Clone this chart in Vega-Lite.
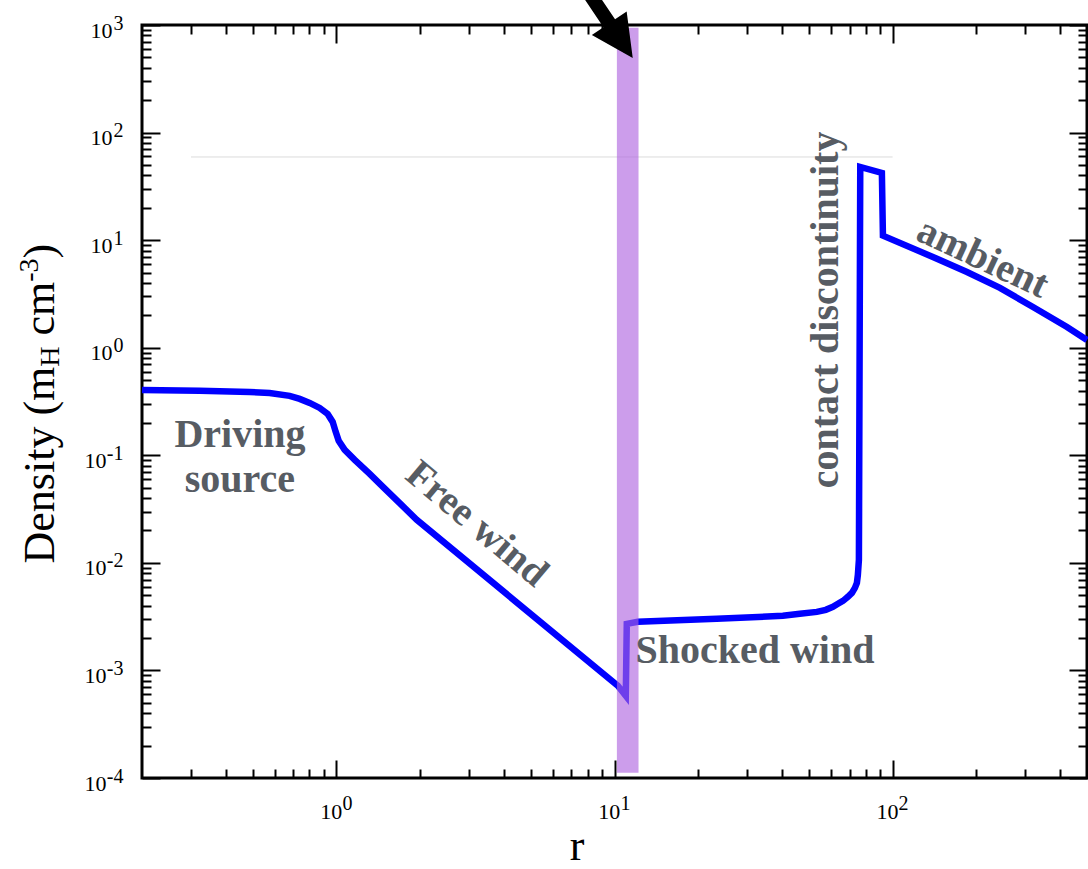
{
  "$schema": "https://vega.github.io/schema/vega-lite/v6.json",
  "width": 945,
  "height": 753,
  "autosize": {"type": "none"},
  "padding": {"left": 142, "top": 25, "right": 1, "bottom": 91},
  "background": "white",
  "config": {
    "view": {"stroke": "black", "strokeWidth": 3},
    "axis": {
      "domain": false,
      "grid": false,
      "labelFont": "Liberation Serif",
      "titleFont": "Liberation Serif",
      "labelColor": "black",
      "titleColor": "black",
      "tickColor": "black",
      "tickWidth": 2,
      "labelFlush": false,
      "labelOverlap": false,
      "labelBound": false,
      "titleFontWeight": "normal",
      "titlePadding": 0
    }
  },
  "resolve": {"axis": {"x": "independent", "y": "independent"}},
  "layer": [
    {
      "data": {"values": [{"r": 0.3, "r2": 100, "rho": 59.3}]},
      "mark": {"type": "rule", "color": "#dcdcdc", "strokeWidth": 1},
      "encoding": {
        "x": {
          "field": "r", "type": "quantitative",
          "scale": {"type": "log", "domain": [0.2, 500], "nice": false},
          "axis": {
            "orient": "bottom", "values": [1, 10, 100], "ticks": false,
            "labelExpr": "'10'",
            "labelFontSize": 22, "labelPadding": 40, "labelBaseline": "alphabetic", "labelAngle": 0, "labelAlign": "right", "labelOffset": 5.3,
            "title": "r", "titleFontSize": 44, "titleX": 434.5, "titleY": 81, "titleAlign": "center", "titleBaseline": "alphabetic", "titleAngle": 0
          }
        },
        "x2": {"field": "r2"},
        "y": {
          "field": "rho", "type": "quantitative",
          "scale": {"type": "log", "domain": [0.0001, 1000], "nice": false},
          "axis": {
            "orient": "left", "values": [0.0001, 0.001, 0.01, 0.1, 1, 10, 100, 1000], "ticks": false,
            "labelExpr": "'10'",
            "labelFontSize": 22,
            "labelPadding": {"condition": {"test": "datum.value < 0.5", "value": 36}, "value": 30},
            "labelBaseline": "alphabetic", "labelOffset": 12, "labelAlign": "right",
            "title": "Density (m", "titleFontSize": 44, "titleAngle": 270, "titleAlign": "left", "titleBaseline": "alphabetic", "titleX": -89, "titleY": 538
          }
        }
      }
    },
    {
      "data": {"values": [
        {"i": 0, "r": 0.2, "rho": 0.405},
        {"i": 1, "r": 0.322, "rho": 0.397},
        {"i": 2, "r": 0.488, "rho": 0.388},
        {"i": 3, "r": 0.5755, "rho": 0.38},
        {"i": 4, "r": 0.679, "rho": 0.3565},
        {"i": 5, "r": 0.738, "rho": 0.3343},
        {"i": 6, "r": 0.8016, "rho": 0.3069},
        {"i": 7, "r": 0.8708, "rho": 0.2757},
        {"i": 8, "r": 0.9304, "rho": 0.2425},
        {"i": 9, "r": 0.9698, "rho": 0.2043},
        {"i": 10, "r": 0.9943, "rho": 0.165},
        {"i": 11, "r": 1.0193, "rho": 0.1361},
        {"i": 12, "r": 1.0712, "rho": 0.1122},
        {"i": 13, "r": 1.1637, "rho": 0.0906},
        {"i": 14, "r": 1.3176, "rho": 0.0672},
        {"i": 15, "r": 1.467, "rho": 0.0512},
        {"i": 16, "r": 1.689, "rho": 0.0359},
        {"i": 17, "r": 1.945, "rho": 0.0251},
        {"i": 18, "r": 10.28, "rho": 0.000719},
        {"i": 19, "r": 10.98, "rho": 0.000581},
        {"i": 20, "r": 11.07, "rho": 0.00271},
        {"i": 21, "r": 12.13, "rho": 0.00283},
        {"i": 22, "r": 23.3, "rho": 0.00302},
        {"i": 23, "r": 40.3, "rho": 0.00322},
        {"i": 24, "r": 46.4, "rho": 0.00336},
        {"i": 25, "r": 53.4, "rho": 0.0035},
        {"i": 26, "r": 57.5, "rho": 0.00366},
        {"i": 27, "r": 61.0, "rho": 0.0039},
        {"i": 28, "r": 63.6, "rho": 0.00416},
        {"i": 29, "r": 66.3, "rho": 0.00443},
        {"i": 30, "r": 69.05, "rho": 0.00483},
        {"i": 31, "r": 71.4, "rho": 0.00526},
        {"i": 32, "r": 73.2, "rho": 0.00586},
        {"i": 33, "r": 74.4, "rho": 0.00652},
        {"i": 34, "r": 75.0, "rho": 0.00773},
        {"i": 35, "r": 75.65, "rho": 0.01067},
        {"i": 36, "r": 76.5, "rho": 47.9},
        {"i": 37, "r": 91.5, "rho": 42.1},
        {"i": 38, "r": 92.3, "rho": 11.0},
        {"i": 39, "r": 139.6, "rho": 6.98},
        {"i": 40, "r": 185.1, "rho": 5.06},
        {"i": 41, "r": 243.2, "rho": 3.6},
        {"i": 42, "r": 319.7, "rho": 2.39},
        {"i": 43, "r": 423.6, "rho": 1.56},
        {"i": 44, "r": 500, "rho": 1.18}
      ]},
      "mark": {"type": "line", "color": "#0000ff", "strokeWidth": 6.5},
      "encoding": {
        "order": {"field": "i", "type": "quantitative"},
        "x": {
          "field": "r", "type": "quantitative",
          "scale": {"type": "log", "domain": [0.2, 500], "nice": false},
          "axis": {"orient": "bottom", "values": [1, 10, 100], "labels": false, "tickSize": -18, "title": null}
        },
        "y": {
          "field": "rho", "type": "quantitative",
          "scale": {"type": "log", "domain": [0.0001, 1000], "nice": false},
          "axis": {
            "orient": "left", "values": [0.0001, 0.001, 0.01, 0.1, 1, 10, 100, 1000], "labels": false, "tickSize": -18,
            "title": "H", "titleFontSize": 28, "titleAngle": 270, "titleAlign": "left", "titleBaseline": "alphabetic", "titleX": -84, "titleY": 341.2
          }
        }
      }
    },
    {
      "data": {"values": [{"r": 10.2, "r2": 12.2, "rho": 0.0001117, "rho2": 944}]},
      "mark": {"type": "rect", "color": "#af64df", "opacity": 0.63},
      "encoding": {
        "x": {
          "field": "r", "type": "quantitative",
          "scale": {"type": "log", "domain": [0.2, 500], "nice": false},
          "axis": {"orient": "bottom", "values": [0.3, 0.4, 0.5, 0.6, 0.7, 0.8, 0.9, 2, 3, 4, 5, 6, 7, 8, 9, 20, 30, 40, 50, 60, 70, 80, 90, 200, 300, 400], "labels": false, "tickSize": -9, "title": null}
        },
        "x2": {"field": "r2"},
        "y": {
          "field": "rho", "type": "quantitative",
          "scale": {"type": "log", "domain": [0.0001, 1000], "nice": false},
          "axis": {
            "orient": "left",
            "values": [0.0002, 0.0003, 0.0004, 0.0005, 0.0006, 0.0007, 0.0008, 0.0009, 0.002, 0.003, 0.004, 0.005, 0.006, 0.007, 0.008, 0.009, 0.02, 0.03, 0.04, 0.05, 0.06, 0.07, 0.08, 0.09, 0.2, 0.3, 0.4, 0.5, 0.6, 0.7, 0.8, 0.9, 2, 3, 4, 5, 6, 7, 8, 9, 20, 30, 40, 50, 60, 70, 80, 90, 200, 300, 400, 500, 600, 700, 800, 900],
            "labels": false, "tickSize": -9,
            "title": "cm", "titleFontSize": 44, "titleAngle": 270, "titleAlign": "left", "titleBaseline": "alphabetic", "titleX": -89, "titleY": 310
          }
        },
        "y2": {"field": "rho2"}
      }
    },
    {
      "data": {"values": [
        {"r": 0.45, "rho": 0.1197, "label": "Driving"},
        {"r": 0.45, "rho": 0.0457, "label": "source"},
        {"r": 31.97, "rho": 0.00118, "label": "Shocked wind"}
      ]},
      "mark": {"type": "text", "font": "Liberation Serif", "fontWeight": "bold", "fontSize": 40, "color": "#575c63", "align": "center", "baseline": "alphabetic"},
      "encoding": {
        "text": {"field": "label"},
        "x": {
          "field": "r", "type": "quantitative",
          "scale": {"type": "log", "domain": [0.2, 500], "nice": false},
          "axis": {"orient": "top", "values": [1, 10, 100], "labels": false, "tickSize": -18, "title": null}
        },
        "y": {
          "field": "rho", "type": "quantitative",
          "scale": {"type": "log", "domain": [0.0001, 1000], "nice": false},
          "axis": {
            "orient": "right", "values": [0.0001, 0.001, 0.01, 0.1, 1, 10, 100, 1000], "labels": false, "tickSize": -18,
            "title": "-3", "titleFontSize": 28, "titleAngle": 270, "titleAlign": "left", "titleBaseline": "alphabetic", "titleX": -1050, "titleY": 256.2
          }
        }
      }
    },
    {
      "data": {"values": [{"r": 3.2, "rho": 0.023, "label": "Free wind"}]},
      "mark": {"type": "text", "font": "Liberation Serif", "fontWeight": "bold", "fontSize": 40, "color": "#575c63", "align": "center", "baseline": "middle", "angle": 40},
      "encoding": {
        "text": {"field": "label"},
        "x": {
          "field": "r", "type": "quantitative",
          "scale": {"type": "log", "domain": [0.2, 500], "nice": false},
          "axis": {"orient": "top", "values": [0.3, 0.4, 0.5, 0.6, 0.7, 0.8, 0.9, 2, 3, 4, 5, 6, 7, 8, 9, 20, 30, 40, 50, 60, 70, 80, 90, 200, 300, 400], "labels": false, "tickSize": -9, "title": null}
        },
        "y": {
          "field": "rho", "type": "quantitative",
          "scale": {"type": "log", "domain": [0.0001, 1000], "nice": false},
          "axis": {
            "orient": "right",
            "values": [0.0002, 0.0003, 0.0004, 0.0005, 0.0006, 0.0007, 0.0008, 0.0009, 0.002, 0.003, 0.004, 0.005, 0.006, 0.007, 0.008, 0.009, 0.02, 0.03, 0.04, 0.05, 0.06, 0.07, 0.08, 0.09, 0.2, 0.3, 0.4, 0.5, 0.6, 0.7, 0.8, 0.9, 2, 3, 4, 5, 6, 7, 8, 9, 20, 30, 40, 50, 60, 70, 80, 90, 200, 300, 400, 500, 600, 700, 800, 900],
            "labels": false, "tickSize": -9,
            "title": ")", "titleFontSize": 44, "titleAngle": 270, "titleAlign": "left", "titleBaseline": "alphabetic", "titleX": -1034, "titleY": 232.9
          }
        }
      }
    },
    {
      "data": {"values": [{"r": 63.6, "rho": 2.245, "label": "contact discontinuity"}]},
      "mark": {"type": "text", "font": "Liberation Serif", "fontWeight": "bold", "fontSize": 40, "color": "#575c63", "align": "center", "baseline": "alphabetic", "angle": 270},
      "encoding": {
        "text": {"field": "label"},
        "x": {
          "field": "r", "type": "quantitative",
          "scale": {"type": "log", "domain": [0.2, 500], "nice": false},
          "axis": {
            "orient": "bottom", "values": [1, 10, 100], "ticks": false,
            "labelExpr": "datum.value < 5 ? '0' : datum.value < 50 ? '1' : '2'",
            "labelFontSize": 20, "labelPadding": 31, "labelBaseline": "alphabetic", "labelAngle": 0, "labelAlign": "left", "labelOffset": 5.5,
            "title": null
          }
        },
        "y": {
          "field": "rho", "type": "quantitative",
          "scale": {"type": "log", "domain": [0.0001, 1000], "nice": false},
          "axis": {
            "orient": "left", "values": [0.0001, 0.001, 0.01, 0.1, 1, 10, 100, 1000], "ticks": false,
            "labelExpr": "datum.value > 500 ? '3' : datum.value > 50 ? '2' : datum.value > 5 ? '1' : datum.value > 0.5 ? '0' : datum.value > 0.05 ? '-1' : datum.value > 0.005 ? '-2' : datum.value > 0.0005 ? '-3' : '-4'",
            "labelFontSize": 20, "labelPadding": 19, "labelBaseline": "alphabetic", "labelOffset": 4, "labelAlign": "right",
            "title": null
          }
        }
      }
    },
    {
      "data": {"values": [{"r": 211, "rho": 6.83, "label": "ambient"}]},
      "mark": {"type": "text", "font": "Liberation Serif", "fontWeight": "bold", "fontSize": 40, "color": "#575c63", "align": "center", "baseline": "middle", "angle": 25},
      "encoding": {
        "text": {"field": "label"},
        "x": {"field": "r", "type": "quantitative", "scale": {"type": "log", "domain": [0.2, 500], "nice": false}, "axis": null},
        "y": {"field": "rho", "type": "quantitative", "scale": {"type": "log", "domain": [0.0001, 1000], "nice": false}, "axis": null}
      }
    },
    {
      "data": {"values": [{"r": 11.63, "rho": 493}]},
      "mark": {"type": "point", "shape": "M0,0 L-0.6,-0.3 L-0.6,-0.1 L-2.6,-0.1 L-2.6,0.1 L-0.6,0.1 L-0.6,0.3 Z", "filled": true, "color": "black", "opacity": 1, "size": 19600, "angle": 56, "strokeWidth": 0},
      "encoding": {
        "x": {"field": "r", "type": "quantitative", "scale": {"type": "log", "domain": [0.2, 500], "nice": false}, "axis": null},
        "y": {"field": "rho", "type": "quantitative", "scale": {"type": "log", "domain": [0.0001, 1000], "nice": false}, "axis": null}
      }
    }
  ]
}
